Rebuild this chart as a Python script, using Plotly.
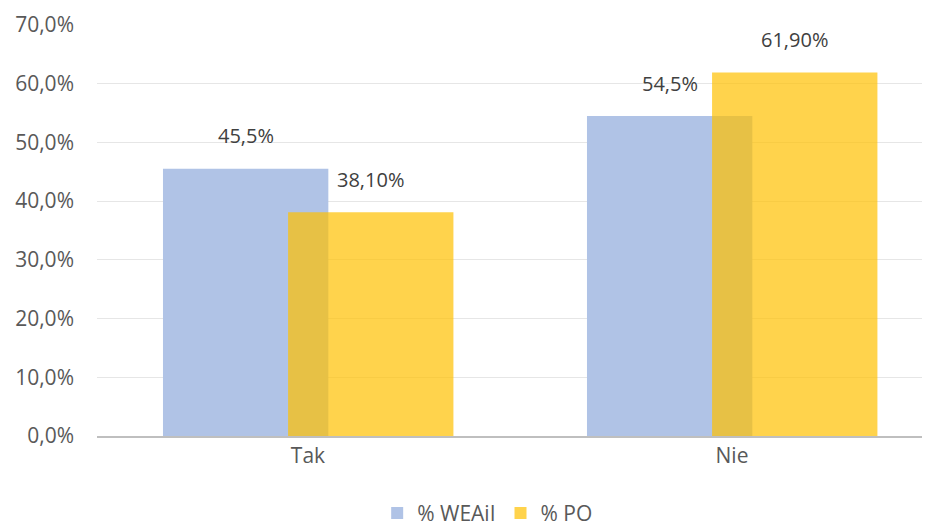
import plotly.graph_objects as go

categories = ["Tak", "Nie"]
weail = [45.5, 54.5]
po = [38.10, 61.90]
weail_labels = ["45,5%", "54,5%"]
po_labels = ["38,10%", "61,90%"]
y_ticks = [0, 10, 20, 30, 40, 50, 60, 70]
y_tick_labels = ["0,0%", "10,0%", "20,0%", "30,0%", "40,0%", "50,0%", "60,0%", "70,0%"]

FONT = "'Open Sans', Lato, sans-serif"
BAR_W = 0.39
OFF_W = -0.342
OFF_P = -0.047

fig = go.Figure()
fig.add_trace(go.Bar(
    x=categories, y=weail, name="% WEAiI",
    marker=dict(color="#B0C3E6", line=dict(width=0)),
    width=BAR_W, offset=OFF_W,
))
fig.add_trace(go.Bar(
    x=categories, y=po, name="% PO",
    marker=dict(color="rgba(255,192,0,0.70)", line=dict(width=0)),
    width=BAR_W, offset=OFF_P,
))

annotations = []
for i, cat in enumerate(categories):
    annotations.append(dict(x=i + OFF_W + BAR_W / 2, y=weail[i], text=weail_labels[i],
                            showarrow=False, yshift=33, xref="x", yref="y",
                            font=dict(size=20, color="#404040", family=FONT)))
    annotations.append(dict(x=i + OFF_P + BAR_W / 2, y=po[i], text=po_labels[i],
                            showarrow=False, yshift=33, xref="x", yref="y",
                            font=dict(size=20, color="#404040", family=FONT)))

fig.update_layout(
    width=930, height=528,
    barmode="overlay",
    plot_bgcolor="white", paper_bgcolor="white",
    margin=dict(l=89, r=8, t=17, b=100, autoexpand=False),
    font=dict(family=FONT, size=21, color="#595959"),
    showlegend=True,
    legend=dict(orientation="h", x=0.469, xanchor="center",
                yref="container", y=0.043, yanchor="middle",
                font=dict(size=21, color="#595959"), traceorder="normal"),
    xaxis=dict(range=[-0.4976, 1.467], showgrid=False, showline=True,
               linecolor="#BFBFBF", linewidth=2, ticks="", automargin=False,
               tickfont=dict(size=21, color="#595959")),
    yaxis=dict(range=[0, 70], tickvals=y_ticks, ticktext=y_tick_labels,
               showgrid=True, gridcolor="#E6E6E6", gridwidth=1,
               zeroline=False, showline=False, ticks="", automargin=False,
               tickfont=dict(size=21, color="#595959"), ticklabelstandoff=22),
    annotations=annotations,
)
fig.write_html("out.html")
